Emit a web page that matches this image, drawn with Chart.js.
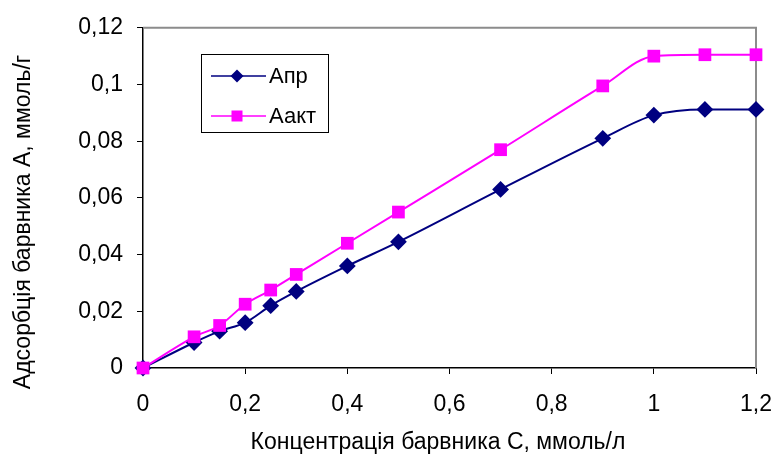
<!DOCTYPE html>
<html>
<head>
<meta charset="utf-8">
<script src="https://cdn.jsdelivr.net/npm/chart.js@4.4.1/dist/chart.umd.min.js"></script>
<style>
    html, body { margin: 0; padding: 0; background: #fff; }
    #wrap { width: 776px; height: 459px; position: relative; }
</style>
</head>
<body>
<div id="wrap"><canvas id="adsChart"></canvas></div>
<script>
// концентрація барвника C, ммоль/л
const concentration = [0, 0.1, 0.15, 0.2, 0.25, 0.3, 0.4, 0.5, 0.7, 0.9, 1.0, 1.1, 1.2];
// адсорбція, ммоль/г
const aPr   = [0, 0.009, 0.013, 0.016, 0.022, 0.027, 0.036, 0.0445, 0.063, 0.081, 0.0892, 0.0912, 0.0912];
const aAkt  = [0, 0.011, 0.015, 0.0225, 0.0275, 0.033, 0.044, 0.055, 0.077, 0.0995, 0.110, 0.1105, 0.1105];
const seriesNames = ['Апр', 'Аакт'];
const xTitle = 'Концентрація барвника С, ммоль/л';
const yTitle = 'Адсорбція барвника А, ммоль/г';

const FONT = '"Liberation Sans", Arial, sans-serif';
const fmt = v => String(Number(v.toFixed(2))).replace('.', ',');
const toPoints = ys => concentration.map((x, i) => ({ x: x, y: ys[i] }));

// plot frame: grey top/right edges like the original
const frameLines = {
    id: 'frameLines',
    beforeDatasetsDraw(chart) {
        const { ctx, chartArea: a } = chart;
        ctx.save();
        ctx.strokeStyle = '#8c8c8c';
        ctx.lineWidth = 2;
        ctx.beginPath();
        ctx.moveTo(a.left, a.top);
        ctx.lineTo(a.right, a.top);
        ctx.lineTo(a.right, a.bottom);
        ctx.stroke();
        ctx.restore();
    }
};

// axis titles (placed a bit off-centre, as in the source picture)
const axisTitles = {
    id: 'axisTitles',
    afterDraw(chart) {
        const ctx = chart.ctx;
        ctx.save();
        ctx.fillStyle = '#000';
        ctx.font = '23px ' + FONT;
        ctx.textAlign = 'center';
        ctx.textBaseline = 'middle';
        ctx.fillText(xTitle, 438, 443);
        ctx.translate(24, 222);
        ctx.rotate(-Math.PI / 2);
        ctx.fillText(yTitle, 0, 0);
        ctx.restore();
    }
};

// legend box drawn inside the plot area
const boxLegend = {
    id: 'boxLegend',
    afterDraw(chart) {
        const ctx = chart.ctx;
        const x0 = 201, y0 = 54, w = 127, h = 78;
        ctx.save();
        ctx.fillStyle = '#fff';
        ctx.fillRect(x0, y0, w, h);
        ctx.strokeStyle = '#000';
        ctx.lineWidth = 1;
        ctx.strokeRect(x0 + 0.5, y0 + 0.5, w, h);
        ctx.font = '22px ' + FONT;
        ctx.textBaseline = 'middle';
        chart.data.datasets.forEach((ds, i) => {
            const yy = y0 + 22 + i * 40;
            ctx.strokeStyle = ds.borderColor;
            ctx.lineWidth = 1.5;
            ctx.beginPath();
            ctx.moveTo(x0 + 10, yy);
            ctx.lineTo(x0 + 65, yy);
            ctx.stroke();
            ctx.fillStyle = ds.pointBackgroundColor;
            const cx = x0 + 36;
            if (ds.pointStyle === 'rectRot') {
                ctx.beginPath();
                ctx.moveTo(cx, yy - 6.5);
                ctx.lineTo(cx + 6.5, yy);
                ctx.lineTo(cx, yy + 6.5);
                ctx.lineTo(cx - 6.5, yy);
                ctx.closePath();
                ctx.fill();
            } else {
                ctx.fillRect(cx - 5.5, yy - 5.5, 11, 11);
            }
            ctx.fillStyle = '#000';
            ctx.fillText(ds.label, x0 + 68, yy + 1);
        });
        ctx.restore();
    }
};

document.addEventListener('DOMContentLoaded', function() {
    const ctx = document.getElementById('adsChart').getContext('2d');
    new Chart(ctx, {
        type: 'line',
        data: {
            datasets: [
                {
                    label: seriesNames[0],
                    data: toPoints(aPr),
                    borderColor: '#000080',
                    backgroundColor: '#000080',
                    pointBackgroundColor: '#000080',
                    pointBorderColor: '#000080',
                    pointStyle: 'rectRot',
                    pointRadius: 7,
                    borderWidth: 2,
                    cubicInterpolationMode: 'monotone',
                    order: 1,
                    clip: false
                },
                {
                    label: seriesNames[1],
                    data: toPoints(aAkt),
                    borderColor: '#FF00FF',
                    backgroundColor: '#FF00FF',
                    pointBackgroundColor: '#FF00FF',
                    pointBorderColor: '#FF00FF',
                    pointStyle: 'rect',
                    pointRadius: 9,
                    pointBorderWidth: 0,
                    borderWidth: 2,
                    cubicInterpolationMode: 'monotone',
                    order: 0,
                    clip: false
                }
            ]
        },
        options: {
            responsive: true,
            maintainAspectRatio: false,
            animation: false,
            layout: { padding: { top: 24, right: 0, left: 0, bottom: 0 } },
            plugins: {
                legend: { display: false },
                tooltip: { enabled: false }
            },
            scales: {
                x: {
                    type: 'linear',
                    min: 0,
                    max: 1.2,
                    ticks: {
                        stepSize: 0.2,
                        color: '#000',
                        padding: 17,
                        font: { size: 23, family: FONT },
                        callback: v => fmt(v)
                    },
                    grid: { drawOnChartArea: false, drawTicks: true, tickLength: 6, color: '#000' },
                    border: { color: '#000', width: 1.5 },
                    afterFit: s => { s.height = 91; s.paddingRight = 20; s.paddingLeft = 0; }
                },
                y: {
                    min: 0,
                    max: 0.12,
                    ticks: {
                        stepSize: 0.02,
                        color: '#000',
                        padding: 14,
                        font: { size: 23, family: FONT },
                        callback: v => fmt(v)
                    },
                    grid: { drawOnChartArea: false, drawTicks: true, tickLength: 6, color: '#000' },
                    border: { color: '#000', width: 1.5 },
                    afterFit: s => { s.width = 143; }
                }
            }
        },
        plugins: [frameLines, axisTitles, boxLegend]
    });
});
</script>
</body>
</html>
